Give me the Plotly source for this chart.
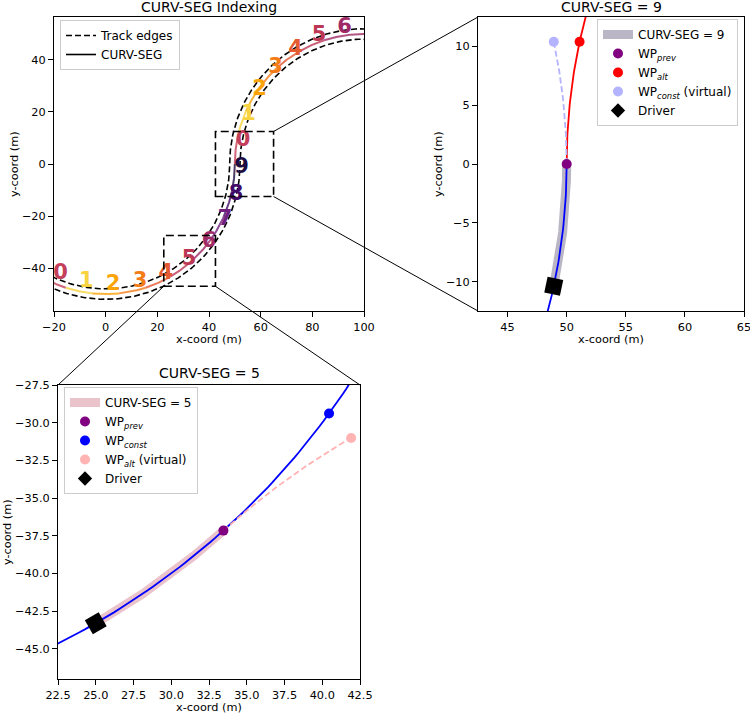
import numpy as np
import plotly.graph_objects as go

# ---------------- data ----------------
TRACK_RADIUS = 50.0          # m, radius of both bends
TRACK_HALF_WIDTH = 2.0       # m, centre line -> dashed edge
SEG_SPAN_DEG = 12.0          # angular length of one CURV-SEG
LOWER_CENTER = [0.0, 0.0]    # centre of lower (left-hand) bend
UPPER_CENTER = [100.0, 0.0]  # centre of upper (right-hand) bend

lower_seg_ids = [0, 1, 2, 3, 4, 5, 6, 7, 8, 9]
lower_seg_start_deg = [-120, -108, -96, -84, -72, -60, -48, -36, -24, -12]   # counter-clockwise
upper_seg_ids = [0, 1, 2, 3, 4, 5, 6]
upper_seg_start_deg = [180, 168, 156, 144, 132, 120, 108]                    # clockwise
upper_track_end_deg = 84

seg_colors = ["#c4405a", "#f7d340", "#fba40a", "#f47c17", "#e45a31",
              "#bc3754", "#9f2a66", "#6f1f7f", "#420a68", "#1b0c41"]

zoom9_seg = 9   # CURV-SEG shown in top-right panel (lower bend)
zoom5_seg = 5   # CURV-SEG shown in bottom-left panel (lower bend)

# axis ranges and ticks
p1_x_range = [-20, 100];   p1_y_range = [-56.5, 56.5]
p2_x_range = [42.5, 65];   p2_y_range = [-12.5, 12.5]
p3_x_range = [22.5, 42.5]; p3_y_range = [-47.0, -27.5]
p1_x_ticks = [-20, 0, 20, 40, 60, 80, 100]
p1_y_ticks = [-40, -20, 0, 20, 40]
p2_x_ticks = [45, 50, 55, 60, 65]
p2_y_ticks = [-10, -5, 0, 5, 10]
p3_x_ticks = [22.5, 25.0, 27.5, 30.0, 32.5, 35.0, 37.5, 40.0, 42.5]
p3_y_ticks = [-27.5, -30.0, -32.5, -35.0, -37.5, -40.0, -42.5, -45.0]

# ---------------- layout constants ----------------
W, H = 750, 713
FONT = "DejaVu Sans"
d1x = [54 / W, 364 / W]; d1y = [1 - 311 / H, 1 - 17 / H]
d2x = [478 / W, 744 / W]; d2y = d1y
d3x = [58 / W, 360 / W]; d3y = [1 - 679 / H, 1 - 385 / H]
LABEL_OFFSET_PX = (7.5, 9.5)   # segment-number glyph centre relative to segment midpoint


def arc(center, r, a0, a1, n=120):
    t = np.radians(np.linspace(a0, a1, n))
    return center[0] + r * np.cos(t), center[1] + r * np.sin(t)


def pt(center, r, a):
    t = np.radians(a)
    return [center[0] + r * np.cos(t)], [center[1] + r * np.sin(t)]


def reverse_center(center, r, a):
    t = np.radians(a)
    return [center[0] + 2 * r * np.cos(t), center[1] + 2 * r * np.sin(t)]


def rgba(hexc, a):
    h = hexc.lstrip("#")
    return "rgba(%d,%d,%d,%.2f)" % (int(h[0:2], 16), int(h[2:4], 16), int(h[4:6], 16), a)


def to_paper(v, rng, dom):
    return dom[0] + (v - rng[0]) / (rng[1] - rng[0]) * (dom[1] - dom[0])


R = TRACK_RADIUS
HW = TRACK_HALF_WIDTH
fig = go.Figure()

# ================= Panel 1 : CURV-SEG indexing =================
for sid, a0 in zip(lower_seg_ids, lower_seg_start_deg):
    x, y = arc(LOWER_CENTER, R, a0, a0 + SEG_SPAN_DEG)
    fig.add_trace(go.Scatter(x=x, y=y, mode="lines", xaxis="x", yaxis="y",
                             line=dict(color=seg_colors[sid], width=2), opacity=0.8,
                             showlegend=False, hoverinfo="skip"))
for k, (sid, a0) in enumerate(zip(upper_seg_ids, upper_seg_start_deg)):
    a1 = a0 - SEG_SPAN_DEG if k < len(upper_seg_ids) - 1 else upper_track_end_deg
    x, y = arc(UPPER_CENTER, R, a0, a1)
    fig.add_trace(go.Scatter(x=x, y=y, mode="lines", xaxis="x", yaxis="y",
                             line=dict(color=seg_colors[sid], width=2), opacity=0.8,
                             showlegend=False, hoverinfo="skip"))

lo_start = lower_seg_start_deg[0]
lo_end = lower_seg_start_deg[-1] + SEG_SPAN_DEG
up_start = upper_seg_start_deg[0]
for k, (r_lo, r_up) in enumerate([(R - HW, R + HW), (R + HW, R - HW)]):
    x1, y1 = arc(LOWER_CENTER, r_lo, lo_start, lo_end)
    x2, y2 = arc(UPPER_CENTER, r_up, up_start, upper_track_end_deg)
    fig.add_trace(go.Scatter(x=np.concatenate([x1, x2]), y=np.concatenate([y1, y2]),
                             mode="lines", xaxis="x", yaxis="y",
                             line=dict(color="black", width=1.6, dash="6px,3px"),
                             name="Track edges", showlegend=(k == 0), legend="legend",
                             hoverinfo="skip"))
fig.add_trace(go.Scatter(x=[None], y=[None], mode="lines", xaxis="x", yaxis="y",
                         line=dict(color="black", width=1.6), name="CURV-SEG",
                         legend="legend"))

# segment labels (glyph centred a fixed pixel offset up-right of the segment midpoint)
ppu_x = (d1x[1] - d1x[0]) * W / (p1_x_range[1] - p1_x_range[0])
ppu_y = (d1y[1] - d1y[0]) * H / (p1_y_range[1] - p1_y_range[0])
ox, oy = LABEL_OFFSET_PX[0] / ppu_x, LABEL_OFFSET_PX[1] / ppu_y
lab_x, lab_y, lab_t, lab_c = [], [], [], []
for sid, a0 in zip(lower_seg_ids, lower_seg_start_deg):
    px, py = pt(LOWER_CENTER, R, a0 + SEG_SPAN_DEG / 2)
    lab_x.append(px[0] + ox); lab_y.append(py[0] + oy)
    lab_t.append(str(sid)); lab_c.append(seg_colors[sid])
for sid, a0 in zip(upper_seg_ids, upper_seg_start_deg):
    px, py = pt(UPPER_CENTER, R, a0 - SEG_SPAN_DEG / 2)
    lab_x.append(px[0] + ox); lab_y.append(py[0] + oy)
    lab_t.append(str(sid)); lab_c.append(seg_colors[sid])
fig.add_trace(go.Scatter(x=lab_x, y=lab_y, text=lab_t, mode="text", xaxis="x", yaxis="y",
                         textposition="middle center", cliponaxis=False,
                         textfont=dict(family=FONT, size=21, color=lab_c, weight="bold"),
                         showlegend=False, hoverinfo="skip"))

# ================= Panel 2 : CURV-SEG = 9 =================
s9 = lower_seg_start_deg[lower_seg_ids.index(zoom9_seg)]
e9 = s9 + SEG_SPAN_DEG
rc9 = reverse_center(LOWER_CENTER, R, e9)
x, y = arc(LOWER_CENTER, R, s9, e9)
fig.add_trace(go.Scatter(x=x, y=y, mode="lines", xaxis="x2", yaxis="y2",
                         line=dict(color=rgba(seg_colors[zoom9_seg], 0.3), width=9),
                         name="CURV-SEG = %d" % zoom9_seg, legend="legend2", hoverinfo="skip"))
x, y = arc(LOWER_CENTER, R, s9 - 3 * SEG_SPAN_DEG, e9)
fig.add_trace(go.Scatter(x=x, y=y, mode="lines", xaxis="x2", yaxis="y2",
                         line=dict(color="#0000ff", width=1.8), showlegend=False, hoverinfo="skip"))
x, y = arc(rc9, R, e9 + 180, e9 + 180 - 2.5 * SEG_SPAN_DEG)
fig.add_trace(go.Scatter(x=x, y=y, mode="lines", xaxis="x2", yaxis="y2",
                         line=dict(color="#ff0000", width=1.8), showlegend=False, hoverinfo="skip"))
x, y = arc(LOWER_CENTER, R, e9, e9 + SEG_SPAN_DEG)
fig.add_trace(go.Scatter(x=x, y=y, mode="lines", xaxis="x2", yaxis="y2",
                         line=dict(color="#b3b3ff", width=1.8, dash="6px,3px"),
                         showlegend=False, hoverinfo="skip"))
px, py = pt(LOWER_CENTER, R, e9)
fig.add_trace(go.Scatter(x=px, y=py, mode="markers", xaxis="x2", yaxis="y2",
                         marker=dict(color="#800080", size=10), name="WP<sub><i>prev</i></sub>",
                         legend="legend2"))
px, py = pt(rc9, R, e9 + 180 - SEG_SPAN_DEG)
fig.add_trace(go.Scatter(x=px, y=py, mode="markers", xaxis="x2", yaxis="y2",
                         marker=dict(color="#ff0000", size=10), name="WP<sub><i>alt</i></sub>",
                         legend="legend2"))
px, py = pt(LOWER_CENTER, R, e9 + SEG_SPAN_DEG)
fig.add_trace(go.Scatter(x=px, y=py, mode="markers", xaxis="x2", yaxis="y2",
                         marker=dict(color="#b3b3ff", size=10),
                         name="WP<sub><i>const</i></sub> (virtual)", legend="legend2"))
px, py = pt(LOWER_CENTER, R, s9)
fig.add_trace(go.Scatter(x=px, y=py, mode="markers", xaxis="x2", yaxis="y2",
                         marker=dict(color="black", size=16, symbol="square", angle=-s9),
                         showlegend=False, hoverinfo="skip"))
fig.add_trace(go.Scatter(x=[None], y=[None], mode="markers", xaxis="x2", yaxis="y2",
                         marker=dict(color="black", size=11, symbol="diamond"),
                         name="Driver", legend="legend2"))

# ================= Panel 3 : CURV-SEG = 5 =================
s5 = lower_seg_start_deg[lower_seg_ids.index(zoom5_seg)]
e5 = s5 + SEG_SPAN_DEG
rc5 = reverse_center(LOWER_CENTER, R, e5)
x, y = arc(LOWER_CENTER, R, s5, e5)
fig.add_trace(go.Scatter(x=x, y=y, mode="lines", xaxis="x3", yaxis="y3",
                         line=dict(color=rgba(seg_colors[zoom5_seg], 0.3), width=9),
                         name="CURV-SEG = %d" % zoom5_seg, legend="legend3", hoverinfo="skip"))
x, y = arc(LOWER_CENTER, R, s5 - SEG_SPAN_DEG, e5 + 3 * SEG_SPAN_DEG)
fig.add_trace(go.Scatter(x=x, y=y, mode="lines", xaxis="x3", yaxis="y3",
                         line=dict(color="#0000ff", width=1.8), showlegend=False, hoverinfo="skip"))
x, y = arc(rc5, R, e5 + 180, e5 + 180 - SEG_SPAN_DEG)
fig.add_trace(go.Scatter(x=x, y=y, mode="lines", xaxis="x3", yaxis="y3",
                         line=dict(color="#ffb3b3", width=1.8, dash="6px,3px"),
                         showlegend=False, hoverinfo="skip"))
px, py = pt(LOWER_CENTER, R, e5)
fig.add_trace(go.Scatter(x=px, y=py, mode="markers", xaxis="x3", yaxis="y3",
                         marker=dict(color="#800080", size=10), name="WP<sub><i>prev</i></sub>",
                         legend="legend3"))
px, py = pt(LOWER_CENTER, R, e5 + SEG_SPAN_DEG)
fig.add_trace(go.Scatter(x=px, y=py, mode="markers", xaxis="x3", yaxis="y3",
                         marker=dict(color="#0000ff", size=10), name="WP<sub><i>const</i></sub>",
                         legend="legend3"))
px, py = pt(rc5, R, e5 + 180 - SEG_SPAN_DEG)
fig.add_trace(go.Scatter(x=px, y=py, mode="markers", xaxis="x3", yaxis="y3",
                         marker=dict(color="#ffb3b3", size=10),
                         name="WP<sub><i>alt</i></sub> (virtual)", legend="legend3"))
px, py = pt(LOWER_CENTER, R, s5)
fig.add_trace(go.Scatter(x=px, y=py, mode="markers", xaxis="x3", yaxis="y3",
                         marker=dict(color="black", size=16, symbol="square", angle=-s5),
                         showlegend=False, hoverinfo="skip"))
fig.add_trace(go.Scatter(x=[None], y=[None], mode="markers", xaxis="x3", yaxis="y3",
                         marker=dict(color="black", size=11, symbol="diamond"),
                         name="Driver", legend="legend3"))

# ================= shapes: zoom boxes + connectors =================
shapes = []
for rx, ry in [(p2_x_range, p2_y_range), (p3_x_range, p3_y_range)]:
    shapes.append(dict(type="rect", xref="x", yref="y", x0=rx[0], x1=rx[1], y0=ry[0], y1=ry[1],
                       line=dict(color="black", width=1.6, dash="8px,4px"), layer="above"))


def p1(xv, yv):
    return to_paper(xv, p1_x_range, d1x), to_paper(yv, p1_y_range, d1y)


conn = [
    (p1(p2_x_range[1], p2_y_range[1]), (d2x[0], d2y[1])),
    (p1(p2_x_range[1], p2_y_range[0]), (d2x[0], d2y[0])),
    (p1(p3_x_range[0], p3_y_range[0]), (d3x[0], d3y[1])),
    (p1(p3_x_range[1], p3_y_range[0]), (d3x[1], d3y[1])),
]
for (a, b) in conn:
    shapes.append(dict(type="line", xref="paper", yref="paper", x0=a[0], y0=a[1], x1=b[0], y1=b[1],
                       line=dict(color="black", width=1), layer="above"))

# ================= annotations: titles, axis labels =================
ann = []


def text(t, x, y, size, angle=0, yanchor="middle"):
    ann.append(dict(text=t, x=x, y=y, xref="paper", yref="paper", showarrow=False,
                    textangle=angle, xanchor="center", yanchor=yanchor,
                    font=dict(family=FONT, size=size, color="black")))


c1 = (d1x[0] + d1x[1]) / 2; c2 = (d2x[0] + d2x[1]) / 2; c3 = (d3x[0] + d3x[1]) / 2
text("CURV-SEG Indexing", c1, 1 - 7 / H, 14)
text("CURV-SEG = %d" % zoom9_seg, c2, 1 - 7 / H, 14)
text("CURV-SEG = %d" % zoom5_seg, c3, 1 - 373 / H, 14)
text("x-coord (m)", c1, 1 - 339 / H, 11.3)
text("x-coord (m)", c2, 1 - 339 / H, 11.3)
text("x-coord (m)", c3, 1 - 707 / H, 11.3)
text("y-coord (m)", 14 / W, (d1y[0] + d1y[1]) / 2, 11.3, -90)
text("y-coord (m)", 438 / W, (d2y[0] + d2y[1]) / 2, 11.3, -90)
text("y-coord (m)", 7 / W, (d3y[0] + d3y[1]) / 2, 11.3, -90)


def ax(dom, rng, ticks, anchor, fmt=None):
    d = dict(domain=dom, range=rng, anchor=anchor, tickmode="array", tickvals=ticks,
             showline=True, mirror=True, linecolor="black", linewidth=1,
             ticks="outside", ticklen=5, tickwidth=1, tickcolor="black",
             showgrid=False, zeroline=False, automargin=False, ticklabeloverflow="allow",
             tickfont=dict(family=FONT, size=11.3, color="black"))
    if fmt:
        d["tickformat"] = fmt
    return d


leg_common = dict(bgcolor="rgba(255,255,255,0.8)", bordercolor="#cccccc", borderwidth=1,
                  font=dict(family=FONT, size=12, color="black"), itemwidth=30,
                  tracegroupgap=0)

fig.update_layout(
    width=W, height=H, template="none",
    margin=dict(l=0, r=0, t=0, b=0),
    paper_bgcolor="white", plot_bgcolor="white",
    font=dict(family=FONT, size=11.3, color="black"),
    xaxis=ax(d1x, p1_x_range, p1_x_ticks, "y"),
    yaxis=ax(d1y, p1_y_range, p1_y_ticks, "x"),
    xaxis2=ax(d2x, p2_x_range, p2_x_ticks, "y2"),
    yaxis2=ax(d2y, p2_y_range, p2_y_ticks, "x2"),
    xaxis3=ax(d3x, p3_x_range, p3_x_ticks, "y3", ".1f"),
    yaxis3=ax(d3y, p3_y_range, p3_y_ticks, "x3", ".1f"),
    legend=dict(x=60 / W, y=1 - 20 / H, xanchor="left", yanchor="top", **leg_common),
    legend2=dict(x=738 / W, y=1 - 19 / H, xanchor="right", yanchor="top", **leg_common),
    legend3=dict(x=64 / W, y=1 - 387 / H, xanchor="left", yanchor="top", **leg_common),
    shapes=shapes, annotations=ann, showlegend=True,
)

fig.write_html("out.html", config={"displayModeBar": False},
               post_script="document.body.style.margin='0px';document.body.style.overflow='hidden';")
